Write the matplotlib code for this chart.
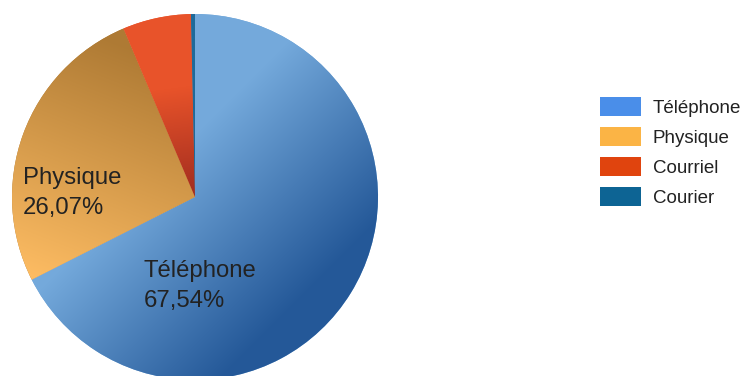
import numpy as np
import matplotlib.pyplot as plt
from matplotlib.patches import Patch
from matplotlib.colors import to_rgb

plt.rcParams['font.family'] = ['Liberation Sans', 'DejaVu Sans']

labels = ['Téléphone', 'Physique', 'Courriel', 'Courier']
shares = [67.54, 26.07, 6.04, 0.35]
legend_colors = ['#4a8ee9', '#fbb445', '#e0440e', '#0d6494']

# gradient of each slice: colour at start, colour at end
grad_start = ['#74a9db', '#ae7a34', '#e8532a', '#1f6a9a']
grad_end = ['#245898', '#fcbb62', '#a02c1f', '#1f6a9a']
# direction of each gradient, in pixel coords (x right, y down)
grad_p0 = [(165, 165), (125, 45), (160, 90), (190, 20)]
grad_p1 = [(300, 300), (35, 275), (175, 200), (190, 200)]

W, H = 742, 376
fig = plt.figure(figsize=(W / 100, H / 100), dpi=100)
ax = fig.add_axes([0, 0, 1, 1])

cx, cy, r = 195, 197, 183
wedges, _ = ax.pie(shares, startangle=90, counterclock=False,
                   center=(cx, H - cy), radius=r,
                   colors=grad_start, wedgeprops=dict(linewidth=0))

# pixel grid for the gradient images
xx, yy = np.meshgrid(np.arange(W) + 0.5, np.arange(H) + 0.5)
for i, w in enumerate(wedges):
    p0 = np.array(grad_p0[i], float)
    p1 = np.array(grad_p1[i], float)
    d = p1 - p0
    t = ((xx - p0[0]) * d[0] + (yy - p0[1]) * d[1]) / (d @ d)
    t = np.clip(t, 0, 1)[..., None]
    c0 = np.array(to_rgb(grad_start[i]))
    c1 = np.array(to_rgb(grad_end[i]))
    img = c0 * (1 - t) + c1 * t
    im = ax.imshow(img, extent=(0, W, 0, H), origin='upper',
                   interpolation='bilinear', zorder=2)
    im.set_clip_path(w)

def pct(v):
    return ('%.2f' % v).replace('.', ',') + '%'

ax.text(144, H - 286, labels[0] + '\n' + pct(shares[0]), ha='left', va='center',
        fontsize=17.2, linespacing=1.42, color='#222222', zorder=3)
ax.text(23, H - 193, labels[1] + '\n' + pct(shares[1]), ha='left', va='center',
        fontsize=17.2, linespacing=1.42, color='#222222', zorder=3)

ax.set_xlim(0, W)
ax.set_ylim(0, H)
ax.set_aspect('auto')
ax.axis('off')

handles = [Patch(facecolor=c, edgecolor='none') for c in legend_colors]
fig.legend(handles, labels, loc='upper left',
           bbox_to_anchor=(600 / W, 1 - 97 / H), frameon=False,
           fontsize=13.5, handlelength=2.2, handleheight=1.15,
           labelspacing=0.55, handletextpad=0.6, borderaxespad=0,
           borderpad=0, labelcolor='#222222')

fig.savefig('out.png', dpi=100)
